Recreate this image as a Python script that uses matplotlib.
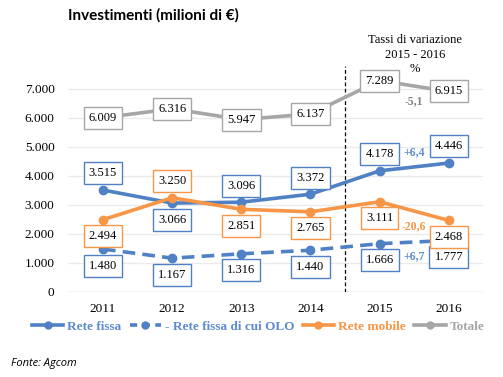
import numpy as np
import matplotlib.pyplot as plt
from matplotlib.lines import Line2D

# data
anni = ['2011', '2012', '2013', '2014', '2015', '2016']
rete_fissa = [3515, 3066, 3096, 3372, 4178, 4446]
rete_fissa_olo = [1480, 1167, 1316, 1440, 1666, 1777]
rete_mobile = [2494, 3250, 2851, 2765, 3111, 2468]
totale = [6009, 6316, 5947, 6137, 7289, 6915]
# variazioni 2015-2016 (%)
var_fissa = '+6,4'
var_olo = '+6,7'
var_mobile = '-20,6'
var_totale = '-5,1'

# label side for each point: 1 above, -1 below, 0 centred
pos_fissa = [1, -1, 1, 1, 1, 1]
pos_olo = [-1, -1, -1, -1, -1, -1]
pos_mobile = [-1, 1, -1, -1, -1, -1]
pos_totale = [0, 0, 0, 0, 0, 0]

blu = '#4F81C4'
arancio = '#F79646'
grigio = '#A6A6A6'

plt.rcParams['font.family'] = 'Liberation Serif'

def fmt(v):
    return f'{v:,}'.replace(',', '.')

fig = plt.figure(figsize=(5.03, 3.77), dpi=100)
ax = fig.add_axes([0.136, 0.2255, 0.825, 0.600])

x = np.arange(len(anni))

ax.plot(x, rete_fissa, color=blu, lw=2.6, marker='o', ms=6, zorder=3)
ax.plot(x, rete_fissa_olo, color=blu, lw=2.6, marker='o', ms=6, ls=(0, (3.5, 2)), zorder=3)
ax.plot(x, rete_mobile, color=arancio, lw=2.6, marker='o', ms=6, zorder=3)
ax.plot(x, totale, color=grigio, lw=2.6, marker='o', ms=6, zorder=3)

def etichette(vals, pos, col):
    for xi, v, p in zip(x, vals, pos):
        ax.annotate(fmt(v), (xi, v), xytext=(0, 12 * p), textcoords='offset points',
                    ha='center', va='center', fontsize=9, color='black',
                    bbox=dict(boxstyle='square,pad=0.4', fc='white', ec=col, lw=1),
                    zorder=5)

etichette(rete_fissa, pos_fissa, blu)
etichette(rete_fissa_olo, pos_olo, blu)
etichette(rete_mobile, pos_mobile, arancio)
etichette(totale, pos_totale, grigio)

# tassi di variazione tra 2015 e 2016
def tasso(txt, a, b, dy, col):
    ax.annotate(txt, (4.5, (a + b) / 2), xytext=(0, dy), textcoords='offset points',
                ha='center', va='center', fontsize=8.5,
                fontweight='bold', color=col, zorder=6)

tasso(var_fissa, rete_fissa[4], rete_fissa[5], 11, '#5B8BD0')
tasso(var_mobile, rete_mobile[4], rete_mobile[5], -11, arancio)
tasso(var_olo, rete_fissa_olo[4], rete_fissa_olo[5], -10, '#5B8BD0')
tasso(var_totale, totale[4], totale[5], -11, '#808080')

ax.axvline(3.5, color='black', lw=0.9, ls=(0, (3, 2)), zorder=2)

ax.set_xlim(-0.5, 5.5)
ax.set_ylim(0, 7800)
ax.set_yticks(range(0, 8000, 1000))
ax.set_yticklabels([fmt(v) for v in range(0, 8000, 1000)])
ax.set_xticks(x)
ax.set_xticklabels(anni)
ax.grid(axis='y', color='#EBEBEB', lw=1, zorder=0)
for s in ax.spines.values():
    s.set_visible(False)
ax.axhline(0, color='#D9D9D9', lw=1, zorder=1)
ax.tick_params(length=0, labelsize=9.5)
ax.tick_params(axis='y', pad=10)
ax.tick_params(axis='x', pad=8)

fig.text(0.135, 0.958, 'Investimenti (milioni di €)', fontsize=11, fontweight='bold',
         family='Lato', ha='left', va='center')
fig.text(0.825, 0.855, 'Tassi di variazione\n2015 - 2016\n%', fontsize=9,
         ha='center', va='center', linespacing=1.3)
fig.text(0.022, 0.037, 'Fonte: Agcom', fontsize=8, style='italic', family='Open Sans',
         ha='left', va='center')

handles = [
    Line2D([], [], color=blu, lw=2.6, marker='o', ms=5),
    Line2D([], [], color=blu, lw=2.6, marker='o', ms=5, ls=(0, (2, 1.5))),
    Line2D([], [], color=arancio, lw=2.6, marker='o', ms=5),
    Line2D([], [], color=grigio, lw=2.6, marker='o', ms=5),
]
labels = ['Rete fissa', '- Rete fissa di cui OLO', 'Rete mobile', 'Totale']
leg = fig.legend(handles, labels, loc='center', bbox_to_anchor=(0.513, 0.133), ncol=4,
                 frameon=False, prop=dict(weight='bold', size=9.5),
                 handlelength=2.4, handletextpad=0.3, columnspacing=0.6)
for t, c in zip(leg.get_texts(), ['#5B8BD0', '#5B8BD0', arancio, '#A6A6A6']):
    t.set_color(c)

fig.savefig('out.png', dpi=100)
